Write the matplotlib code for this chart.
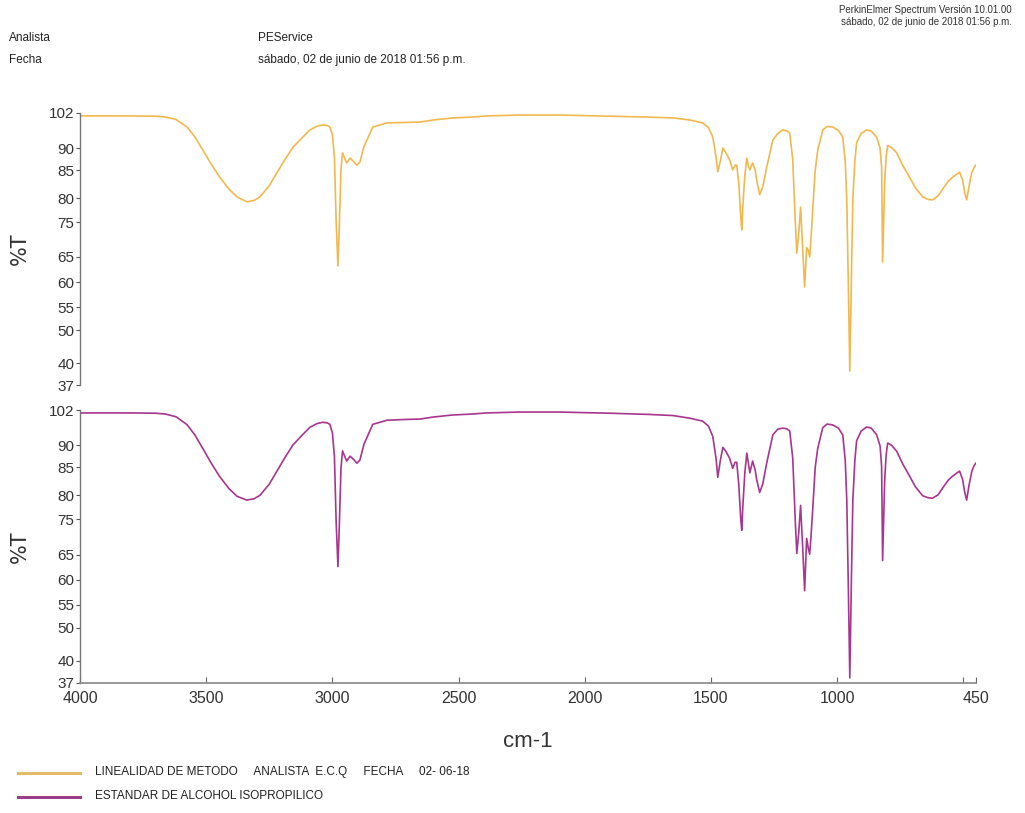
import numpy as np
import matplotlib.pyplot as plt

# wavenumbers (cm-1) and %T
wn_top = [4000, 3800, 3700, 3660, 3620, 3576, 3545, 3513, 3480, 3446, 3410, 3378, 3339, 3310,
          3287, 3250, 3220, 3190, 3156, 3120, 3089, 3060, 3038, 3020, 3010, 3000, 2992, 2985,
          2978, 2972, 2966, 2960, 2950, 2943, 2930, 2915, 2903, 2891, 2875, 2863, 2840, 2784,
          2700, 2653, 2600, 2523, 2450, 2388, 2257, 2100, 2000, 1900, 1750, 1650, 1584, 1533,
          1510, 1493, 1480, 1473, 1463, 1453, 1440, 1426, 1414, 1405, 1398, 1390, 1382, 1378,
          1374, 1366, 1358, 1352, 1346, 1335, 1325, 1319, 1307, 1295, 1279, 1255, 1235, 1216,
          1200, 1188, 1176, 1166, 1160, 1152, 1145, 1137, 1129, 1121, 1115, 1109, 1103, 1097,
          1087, 1077, 1057, 1040, 1018, 995, 978, 968, 962, 956, 950, 944, 938, 930, 923, 905,
          883, 865, 844, 830, 824, 820, 816, 812, 806, 800, 785, 764, 740, 713, 690, 661, 640,
          622, 600, 582, 560, 543, 525, 515, 503, 495, 487, 478, 467, 458, 451]
t_top = [101.0, 101.0, 100.9, 100.6, 99.8, 97.2, 93.8, 89.5, 86.3, 83.7, 81.6, 80.2, 79.2, 79.5,
         80.2, 82.2, 84.5, 87.2, 90.3, 93.5, 96.2, 97.5, 97.9, 97.7, 97.2, 94.5, 88.0, 75.0,
         63.2, 75.0, 85.0, 88.9, 87.5, 86.6, 87.7, 86.9, 86.1, 86.8, 90.5, 92.7, 97.2, 98.6,
         98.8, 98.9, 99.6, 100.3, 100.6, 101.0, 101.3, 101.3, 101.1, 100.9, 100.6, 100.3, 99.6, 98.6,
         97.0, 93.8, 88.0, 84.7, 87.0, 90.0, 88.8, 87.3, 85.0, 86.1, 86.1, 82.7, 76.0, 72.7,
         78.1, 84.0, 87.7, 86.0, 85.0, 86.6, 85.0, 83.2, 80.6, 82.0, 85.7, 92.7, 95.0, 96.2,
         95.9, 95.1, 87.3, 75.0, 66.1, 72.0, 78.1, 68.0, 59.0, 67.7, 67.0, 65.0, 71.0, 77.5,
         85.0, 89.5, 96.2, 97.4, 97.2, 96.0, 93.8, 87.0, 79.6, 60.0, 38.9, 60.0, 79.6, 87.0, 91.8, 95.0,
         96.2, 95.8, 93.8, 90.0, 85.7, 64.0, 75.0, 82.7, 88.0, 90.9, 90.2, 88.9, 86.0, 83.7, 81.8, 80.2, 79.7,
         79.6, 80.4, 81.6, 83.0, 83.7, 84.3, 84.6, 83.2, 81.0, 79.6, 82.0, 84.5, 85.5, 86.1]

wn_bot = wn_top
t_bot = [101.0, 101.0, 100.9, 100.6, 99.7, 97.0, 93.5, 89.2, 85.9, 83.3, 81.2, 79.8, 79.0, 79.3,
         80.0, 82.0, 84.3, 87.0, 90.1, 93.4, 96.1, 97.4, 97.8, 97.6, 97.1, 94.2, 87.5, 74.0,
         62.6, 74.5, 84.8, 88.7, 87.3, 86.4, 87.5, 86.7, 85.9, 86.6, 90.3, 92.6, 97.1, 98.5,
         98.8, 98.9, 99.6, 100.3, 100.6, 101.0, 101.3, 101.3, 101.1, 100.9, 100.5, 100.1, 99.2, 98.2,
         96.5, 93.0, 87.0, 83.2, 86.5, 89.5, 88.5, 87.0, 84.8, 86.1, 86.1, 82.0, 75.0, 71.9,
         77.5, 84.0, 88.2, 86.0, 84.0, 86.4, 84.5, 82.8, 80.5, 82.0, 86.0, 93.5, 95.5, 95.8,
         95.6, 94.8, 87.0, 74.5, 65.3, 71.5, 77.9, 67.5, 57.8, 69.6, 67.0, 65.1, 71.0, 77.0,
         85.0, 89.3, 96.0, 97.2, 96.9, 95.8, 93.5, 86.5, 79.0, 59.0, 37.7, 59.0, 79.0, 86.5, 91.5, 94.8,
         96.2, 95.8, 93.6, 89.8, 85.2, 63.8, 74.5, 82.5, 87.8, 90.7, 90.0, 88.6, 85.7, 83.4, 81.5, 79.9, 79.5,
         79.4, 80.1, 81.3, 82.7, 83.4, 84.0, 84.3, 82.8, 80.6, 79.0, 81.7, 84.2, 85.3, 85.9]

x_ticks = [4000, 3500, 3000, 2500, 2000, 1500, 1000, 500, 450]
x_labels = ['4000', '3500', '3000', '2500', '2000', '1500', '1000', '', '450']
y_ticks = [37, 40, 50, 55, 60, 65, 75, 80, 85, 90, 102]
# the instrument axis is not linear: height of each tick above the 37 line (px)
y_tick_pos = [0, 22, 55, 78, 103, 128, 163, 187, 215, 237, 272]

col_top = '#F2B84E'
col_bot = '#A8358E'
narrow = ['Liberation Sans Narrow', 'Liberation Sans', 'DejaVu Sans']
plt.rcParams['font.family'] = narrow


def fwd(v):
    return np.interp(v, y_ticks, y_tick_pos)


def inv(p):
    return np.interp(p, y_tick_pos, y_ticks)


fig = plt.figure(figsize=(10.25, 8.13), dpi=100)
W, H = 1025, 813
ax_top = fig.add_axes([80 / W, 1 - 385 / H, 896 / W, 272 / H])
ax_bot = fig.add_axes([80 / W, 1 - 683 / H, 896 / W, 273 / H])

for ax, wn, t, c in [(ax_top, wn_top, t_top, col_top), (ax_bot, wn_bot, t_bot, col_bot)]:
    ax.plot(wn, t, color=c, lw=1.2)
    ax.set_yscale('function', functions=(fwd, inv))
    ax.set_xlim(4000, 450)
    ax.set_ylim(37, 102)
    ax.set_yticks(y_ticks)
    ax.set_yticklabels([str(v) for v in y_ticks])
    ax.minorticks_off()
    ax.tick_params(axis='y', direction='out', length=3, width=0.8, colors='#555555',
                   labelsize=11, labelcolor='#333333', pad=1)
    for s in ['top', 'right']:
        ax.spines[s].set_visible(False)
    ax.spines['left'].set_color('#777777')
    ax.spines['left'].set_linewidth(1.0)
    ax.set_ylabel('%T', fontsize=15, color='#333333', family=['DejaVu Sans'], labelpad=14)
    ax.patch.set_alpha(0)

ax_top.spines['bottom'].set_visible(False)
ax_top.set_xticks([])

ax_bot.spines['bottom'].set_color('#888888')
ax_bot.spines['bottom'].set_linewidth(1.2)
ax_bot.set_xticks(x_ticks)
ax_bot.set_xticklabels(x_labels)
ax_bot.tick_params(axis='x', direction='in', length=4, width=0.8, colors='#666666',
                   labelsize=11.5, labelcolor='#333333', pad=6)
ax_bot.set_xlabel('cm-1', fontsize=16, color='#333333', labelpad=18)

# header texts
fig.text(1012 / W, 1 - 10 / H, 'PerkinElmer Spectrum Versión 10.01.00', ha='right', va='center',
         fontsize=7, color='#333333')
fig.text(1012 / W, 1 - 22 / H, 'sábado, 02 de junio de 2018 01:56 p.m.', ha='right', va='center',
         fontsize=7, color='#333333')
fig.text(9 / W, 1 - 38 / H, 'Analista', ha='left', va='center', fontsize=8.5, color='#222222')
fig.text(9 / W, 1 - 60 / H, 'Fecha', ha='left', va='center', fontsize=8.5, color='#222222')
fig.text(258 / W, 1 - 38 / H, 'PEService', ha='left', va='center', fontsize=8.5, color='#222222')
fig.text(258 / W, 1 - 60 / H, 'sábado, 02 de junio de 2018 01:56 p.m.', ha='left', va='center',
         fontsize=8.5, color='#222222')

# legend
fig.lines.append(plt.Line2D([18 / W, 80 / W], [1 - 773 / H, 1 - 773 / H], color='#E0BC6A',
                            lw=2.2, transform=fig.transFigure))
fig.lines.append(plt.Line2D([18 / W, 80 / W], [1 - 797 / H, 1 - 797 / H], color='#9C3D8C',
                            lw=2.2, transform=fig.transFigure))
fig.text(95 / W, 1 - 772 / H, 'LINEALIDAD DE METODO     ANALISTA  E.C.Q     FECHA     02- 06-18',
         ha='left', va='center', fontsize=8.5, color='#222222')
fig.text(95 / W, 1 - 796 / H, 'ESTANDAR DE ALCOHOL ISOPROPILICO', ha='left', va='center',
         fontsize=8.5, color='#222222')

fig.savefig('out.png', dpi=100)
